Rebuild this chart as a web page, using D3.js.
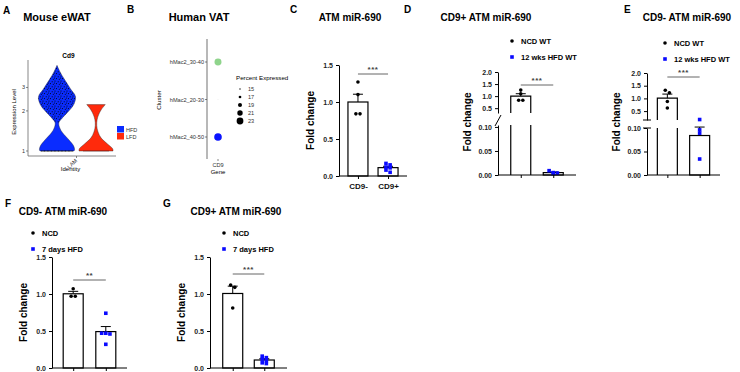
<!DOCTYPE html>
<html>
<head>
<meta charset="utf-8">
<script src="https://cdn.jsdelivr.net/npm/d3@7"></script>
<style>
  body { margin: 0; background: #fff; }
  svg { font-family: "Liberation Sans", Arial, Helvetica, sans-serif; }
</style>
</head>
<body>
<div id="chart"></div>
<script>
// ---------------- data ----------------
// A: Cd9 violin (log expression level vs relative density)
var vlnLevelsHFD = [4.40, 3.96, 3.45, 2.90, 2.56, 2.23, 1.97, 1.78, 1.63, 1.49, 1.37, 1.21, 1.09, 1.02, 1.0]
var vlnDensHFD = [0, 0.15, 0.40, 0.75, 1.0, 0.90, 0.60, 0.30, 0.10, 0.15, 0.30, 0.65, 0.90, 0.95, 0.92]
var vlnLevelsLFD = [2.23, 2.04, 1.87, 1.72, 1.55, 1.39, 1.25, 1.13, 1.04, 1.0]
var vlnDensLFD = [0.50, 0.28, 0.14, 0.06, 0.04, 0.11, 0.28, 0.62, 0.90, 0.92]
var vlnGroups = ['HFD', 'LFD']
var vlnTicks = [1, 2, 3]

// B: dot plot
var dotClusters = ['hMac2_30-40', 'hMac2_20-30', 'hMac2_40-50']
var dotPct = [23.3, 14.4, 24.2]
var dotColors = ['#8fd48c', '#e4e4e4', '#0a14ff']
var pctLegend = [15, 17, 19, 21, 23]

// C: ATM miR-690
var cGroups = ['CD9-', 'CD9+']
var cMeans = [1.0, 0.113]
var cSem = [0.105, 0.018]
var cPtsNeg = [1.27, 1.10, 0.84, 0.84]
var cPtsPos = [0.17, 0.15, 0.12, 0.11, 0.08, 0.05]

// D: CD9+ ATM miR-690, NCD WT vs 12 wks HFD WT
var dGroups = ['NCD WT', '12 wks HFD WT']
var dMeans = [1.0, 0.005]
var dSem = [0.10, 0.0013]
var dPtsNCD = [1.25, 1.10, 0.83, 0.83]
var dPtsHFD = [0.009, 0.005, 0.004, 0.003]

// E: CD9- ATM miR-690
var eMeans = [1.01, 0.084]
var eSem = [0.16, 0.018]
var ePtsNCD = [1.32, 1.22, 0.88, 0.62]
var ePtsHFD = [0.118, 0.096, 0.089, 0.034]

// F: CD9- ATM miR-690, NCD vs 7 days HFD
var fgGroups = ['NCD', '7 days HFD']
var fMeans = [1.003, 0.492]
var fSem = [0.033, 0.068]
var fPtsNCD = [0.97, 1.07, 0.97]
var fPtsHFD = [0.74, 0.47, 0.47, 0.46, 0.32]

// G: CD9+ ATM miR-690
var gMeans = [1.007, 0.108]
var gSem = [0.099, 0.017]
var gPtsNCD = [1.12, 1.09, 0.81]
var gPtsHFD = [0.16, 0.14, 0.12, 0.10, 0.07, 0.06]

var upTicks = [0.5, 1.0, 1.5, 2.0]
var loTicks = [0, 0.05, 0.10]
var simpleTicks = [0, 0.5, 1.0, 1.5]

// ---------------- drawing ----------------
var blue = '#0a0aff'
var svg = d3.select('#chart').append('svg')
    .attr('width', 740)
    .attr('height', 372)

function label(x, y, s, size, weight, anchor, rot) {
    var t = svg.append('text')
        .attr('x', x).attr('y', y)
        .attr('font-size', size + 'px')
        .attr('font-weight', weight || 'normal')
        .attr('text-anchor', anchor || 'start')
        .attr('fill', '#000')
        .text(s)
    if (rot) t.attr('transform', 'rotate(' + rot + ',' + x + ',' + y + ')')
    return t
}

// panel letters + titles
label(3, 14, 'A', 10, 'bold')
label(57, 21, 'Mouse eWAT', 11, 'bold', 'middle')
label(127, 13, 'B', 10, 'bold')
label(199, 21, 'Human VAT', 11, 'bold', 'middle')
label(290, 13, 'C', 10, 'bold')
label(350, 21, 'ATM miR-690', 10, 'bold', 'middle')
label(404, 13, 'D', 10, 'bold')
label(486, 21, 'CD9+ ATM miR-690', 10, 'bold', 'middle')
label(624, 13, 'E', 10, 'bold')
label(687, 21, 'CD9- ATM miR-690', 10, 'bold', 'middle')
label(5, 207, 'F', 10, 'bold')
label(63, 215, 'CD9- ATM miR-690', 10, 'bold', 'middle')
label(163, 207, 'G', 10, 'bold')
label(236, 215, 'CD9+ ATM miR-690', 10, 'bold', 'middle')

// ---------- A: violin ----------
var defs = svg.append('defs')
var pat = defs.append('pattern')
    .attr('id', 'cells')
    .attr('patternUnits', 'userSpaceOnUse')
    .attr('width', 6).attr('height', 5)
var cellDots = [[1, 1], [4.2, 1.8], [2.4, 3.6], [5.3, 4.3], [0.3, 3]]
cellDots.forEach(function (p) {
    pat.append('circle').attr('cx', p[0]).attr('cy', p[1]).attr('r', 0.55).attr('fill', '#000')
})

var vY = d3.scaleLog().domain([1, 4.5]).range([151, 64])
var vX = d3.scalePoint().domain(vlnGroups).range([57, 96])
var vW = d3.scaleLinear().domain([0, 1]).range([0, 18.5])
var vCol = { HFD: '#0a2cff', LFD: '#ff2a0c' }

function violin(levels, dens, grp) {
    var rows = levels.map(function (l, i) { return { l: l, d: dens[i] } })
    var cx = vX(grp)
    var area = d3.area()
        .y(function (d) { return vY(d.l) })
        .x0(function (d) { return cx - vW(d.d) })
        .x1(function (d) { return cx + vW(d.d) })
        .curve(d3.curveCatmullRom)
    svg.append('path')
        .attr('d', area(rows))
        .attr('fill', vCol[grp])
        .attr('stroke', '#222')
        .attr('stroke-width', 0.4)
    return area(rows)
}
var hfdPath = violin(vlnLevelsHFD, vlnDensHFD, 'HFD')
violin(vlnLevelsLFD, vlnDensLFD, 'LFD')

// jittered cells over the HFD violin (texture)
defs.append('clipPath').attr('id', 'upperClip')
    .append('rect').attr('x', 0).attr('y', vY(4.5)).attr('width', 200).attr('height', vY(1.62) - vY(4.5))
svg.append('path')
    .attr('d', hfdPath)
    .attr('fill', 'url(#cells)')
    .attr('clip-path', 'url(#upperClip)')
svg.append('line')
    .attr('x1', vX('HFD') - vW(0.85)).attr('x2', vX('HFD') + vW(0.85))
    .attr('y1', vY(1)).attr('y2', vY(1))
    .attr('stroke', '#000').attr('stroke-width', 1.1)
    .attr('stroke-dasharray', '0.9 0.5')
svg.append('line')
    .attr('x1', vX('LFD') - vW(0.7)).attr('x2', vX('LFD') + vW(0.7))
    .attr('y1', vY(1)).attr('y2', vY(1))
    .attr('stroke', '#611').attr('stroke-width', 0.5)

// A axes
var axA = svg.append('g').attr('stroke', '#555').attr('stroke-width', 0.7)
axA.append('line').attr('x1', 28).attr('x2', 28).attr('y1', 60).attr('y2', 156)
axA.append('line').attr('x1', 28).attr('x2', 116).attr('y1', 156).attr('y2', 156)
vlnTicks.forEach(function (t) {
    axA.append('line').attr('x1', 26).attr('x2', 28).attr('y1', vY(t)).attr('y2', vY(t))
    label(25, vY(t) + 2, t, 5.5, 'normal', 'end').attr('fill', '#333')
})
var lamX = (vX('HFD') + vX('LFD')) / 2
axA.append('line').attr('x1', lamX).attr('x2', lamX).attr('y1', 156).attr('y2', 158)
label(lamX + 1, 161, 'LAM', 5.5, 'normal', 'end', -45).attr('fill', '#333')
label(lamX - 6, 171, 'Identity', 6, 'normal', 'middle')
label(16, 112, 'Expression Level', 6, 'normal', 'middle', -90)
label(lamX - 8, 58, 'Cd9', 6.5, 'bold', 'middle')
// A legend
vlnGroups.forEach(function (g, i) {
    svg.append('rect').attr('x', 117).attr('y', 126 + i * 7).attr('width', 7).attr('height', 6.5)
        .attr('fill', vCol[g])
    label(126, 131.5 + i * 7, g, 5.5, 'normal').attr('fill', '#333')
})

// ---------- B: dot plot ----------
var bY = d3.scalePoint().domain(dotClusters).range([62, 137])
var bR = d3.scaleLinear().domain([13, 24.2]).range([0, 3.8])
var bX = 218
svg.append('line').attr('x1', 207).attr('x2', 207).attr('y1', 39).attr('y2', 159)
    .attr('stroke', '#333').attr('stroke-width', 0.7)
dotClusters.forEach(function (c, i) {
    svg.append('line').attr('x1', 205).attr('x2', 207).attr('y1', bY(c)).attr('y2', bY(c))
        .attr('stroke', '#333').attr('stroke-width', 0.6)
    label(204, bY(c) + 2, c, 5.6, 'normal', 'end').attr('fill', '#333')
    svg.append('circle').attr('cx', bX).attr('cy', bY(c)).attr('r', bR(dotPct[i]))
        .attr('fill', dotColors[i])
})
svg.append('line').attr('x1', bX).attr('x2', bX).attr('y1', 159).attr('y2', 161)
    .attr('stroke', '#333').attr('stroke-width', 0.6)
label(bX, 167, 'CD9', 5.6, 'normal', 'middle').attr('fill', '#333')
label(bX, 174, 'Gene', 6, 'normal', 'middle')
label(161, 100, 'Cluster', 6.2, 'normal', 'middle', -90)
label(236, 80, 'Percent Expressed', 6.2, 'normal')
pctLegend.forEach(function (p, i) {
    var y = 89 + i * 8
    svg.append('circle').attr('cx', 240).attr('cy', y).attr('r', bR(p)).attr('fill', '#000')
    label(248, y + 2, p, 5.6, 'normal').attr('fill', '#333')
})

// ---------- bar panels ----------
function swarmOffsets(vals, yScale, r) {
    // spread points that sit at nearly the same height, at most 3 per row
    var order = vals.map(function (v, i) { return i }).sort(function (a, b) { return vals[b] - vals[a] })
    var out = new Array(vals.length)
    var rows = []
    order.forEach(function (i) {
        var y = yScale(vals[i])
        var last = rows[rows.length - 1]
        if (last && Math.abs(last.y - y) < 1.6 * r && last.idx.length < 3) last.idx.push(i)
        else rows.push({ y: y, idx: [i] })
    })
    rows.forEach(function (row) {
        var n = row.idx.length
        row.idx.forEach(function (i, k) { out[i] = (k - (n - 1) / 2) * 2.3 * r })
    })
    return out
}

function drawPoints(g, vals, cx, yScale, kind) {
    var r = 1.8
    var off = swarmOffsets(vals, yScale, r)
    vals.forEach(function (v, i) {
        if (kind === 'dot') {
            g.append('circle').attr('cx', cx + off[i]).attr('cy', yScale(v)).attr('r', r).attr('fill', '#000')
        } else {
            g.append('rect').attr('x', cx + off[i] - r).attr('y', yScale(v) - r)
                .attr('width', 2 * r).attr('height', 2 * r).attr('fill', blue)
        }
    })
}

function errBar(g, cx, y0, y1) {
    g.append('line').attr('x1', cx).attr('x2', cx).attr('y1', y0).attr('y2', y1)
        .attr('stroke', '#000').attr('stroke-width', 1)
    g.append('line').attr('x1', cx - 5).attr('x2', cx + 5).attr('y1', y1).attr('y2', y1)
        .attr('stroke', '#000').attr('stroke-width', 1)
}

function sig(g, x1, x2, y, stars) {
    g.append('line').attr('x1', x1).attr('x2', x2).attr('y1', y).attr('y2', y)
        .attr('stroke', '#666').attr('stroke-width', 1)
    g.append('text').attr('x', (x1 + x2) / 2).attr('y', y - 2.5)
        .attr('text-anchor', 'middle').attr('font-size', '8px').attr('font-weight', 'bold')
        .attr('fill', '#444').attr('letter-spacing', '0.5px')
        .text(stars)
}

function legend(x, y, names) {
    svg.append('circle').attr('cx', x).attr('cy', y).attr('r', 1.8).attr('fill', '#000')
    svg.append('rect').attr('x', x - 1.8).attr('y', y + 16 - 1.8).attr('width', 3.6).attr('height', 3.6).attr('fill', blue)
    label(x + 9, y + 3, names[0], 7.5, 'bold')
    label(x + 9, y + 19, names[1], 7.5, 'bold')
}

function yTitle(x, y) {
    label(x, y, 'Fold change', 10, 'bold', 'middle', -90)
}

function simplePanel(p) {
    var g = svg.append('g')
    var x = d3.scalePoint().domain(p.groups).range([p.ax, p.xEnd]).padding(p.pad)
    var y = p.y
    p.means.forEach(function (m, i) {
        var cx = x(p.groups[i])
        errBar(g, cx, y(m), y(m + p.sem[i]))
        g.append('rect').attr('x', cx - 10).attr('y', y(m)).attr('width', 20).attr('height', y(0) - y(m))
            .attr('fill', i === 0 ? '#fff' : 'none').attr('stroke', '#000').attr('stroke-width', 1.2)
    })
    drawPoints(g, p.pts[0], x(p.groups[0]), y, 'dot')
    drawPoints(g, p.pts[1], x(p.groups[1]), y, 'sq')
    var ax = g.append('g').attr('transform', 'translate(' + p.ax + ',0)')
        .call(d3.axisLeft(y).tickValues(simpleTicks).tickFormat(d3.format('.1f')).tickSize(3).tickSizeOuter(0))
    ax.selectAll('text').attr('font-size', '7px').attr('font-weight', 'bold').attr('font-family', 'inherit').attr('fill', '#222')
    var bx = g.append('g').attr('transform', 'translate(0,' + y(0) + ')')
        .call(d3.axisBottom(x).tickSize(3).tickSizeOuter(0))
    bx.select('.domain').attr('d', 'M' + p.ax + ',0H' + p.xEnd)
    bx.selectAll('text').attr('font-size', '8px').attr('font-weight', 'bold').attr('font-family', 'inherit')
        .attr('fill', '#111').attr('dy', '0.9em')
    if (!p.xLabels) bx.selectAll('text').remove()
    g.selectAll('.domain, .tick line').attr('stroke-width', 1)
    sig(g, x(p.groups[0]), x(p.groups[1]), p.sigY, p.stars)
    yTitle(p.ax - 25, (y(0) + y(1.5)) / 2)
}

simplePanel({
    groups: cGroups, ax: 339, xEnd: 407, pad: 0.63,
    y: d3.scaleLinear().domain([0, 1.5]).range([176, 65]),
    means: cMeans, sem: cSem, pts: [cPtsNeg, cPtsPos],
    sigY: 74, stars: '***', xLabels: true
})
simplePanel({
    groups: fgGroups, ax: 52, xEnd: 127, pad: 0.65,
    y: d3.scaleLinear().domain([0, 1.5]).range([368, 257]),
    means: fMeans, sem: fSem, pts: [fPtsNCD, fPtsHFD],
    sigY: 280, stars: '**', xLabels: false
})
simplePanel({
    groups: fgGroups, ax: 210, xEnd: 287, pad: 0.72,
    y: d3.scaleLinear().domain([0, 1.5]).range([368, 257]),
    means: gMeans, sem: gSem, pts: [gPtsNCD, gPtsHFD],
    sigY: 274, stars: '***', xLabels: false
})
legend(33, 233, fgGroups)
legend(224, 233, fgGroups)

// ---------- broken-axis panels ----------
function brokenPanel(p) {
    var g = svg.append('g')
    var x = d3.scalePoint().domain(dGroups).range([p.ax, p.xEnd]).padding(p.pad)
    var up = p.up, lo = p.lo
    var yv = function (v) { return v >= 0.2 ? up(v) : lo(v) }
    var upBot = up.range()[0], loTop = lo.range()[1]
    p.means.forEach(function (m, i) {
        var cx = x(dGroups[i])
        errBar(g, cx, yv(m), yv(m + p.sem[i]))
        if (m >= 0.2) {
            var path = 'M' + (cx - 10) + ',' + upBot + 'V' + up(m) + 'H' + (cx + 10) + 'V' + upBot +
                'M' + (cx - 10) + ',' + loTop + 'V' + lo(0) + 'M' + (cx + 10) + ',' + loTop + 'V' + lo(0)
            g.append('path').attr('d', path).attr('fill', 'none').attr('stroke', '#000').attr('stroke-width', 1.2)
        } else {
            g.append('rect').attr('x', cx - 10).attr('y', lo(m)).attr('width', 20).attr('height', lo(0) - lo(m))
                .attr('fill', 'none').attr('stroke', '#000').attr('stroke-width', 1.2)
        }
    })
    drawPoints(g, p.pts[0], x(dGroups[0]), up, 'dot')
    drawPoints(g, p.pts[1], x(dGroups[1]), lo, 'sq')
    g.append('g').attr('transform', 'translate(' + p.ax + ',0)')
        .call(d3.axisLeft(up).tickValues(upTicks).tickFormat(d3.format('.1f')).tickSize(3).tickSizeOuter(0))
    g.append('g').attr('transform', 'translate(' + p.ax + ',0)')
        .call(d3.axisLeft(lo).tickValues(loTicks).tickFormat(d3.format('.2f')).tickSize(3).tickSizeOuter(0))
    g.selectAll('.tick text').attr('font-size', '7px').attr('font-weight', 'bold').attr('font-family', 'inherit').attr('fill', '#222')
    var bx = g.append('g').attr('transform', 'translate(0,' + lo(0) + ')')
        .call(d3.axisBottom(x).tickSize(3).tickSizeOuter(0))
    bx.select('.domain').attr('d', 'M' + p.ax + ',0H' + p.xEnd)
    bx.selectAll('text').remove()
    g.selectAll('.domain, .tick line').attr('stroke-width', 1)
    if (p.slash) {
        g.append('line').attr('x1', p.ax - 3).attr('x2', p.ax + 3).attr('y1', loTop + 1).attr('y2', upBot + 2)
            .attr('stroke', '#000').attr('stroke-width', 1)
    } else {
        g.append('line').attr('x1', p.ax - 4).attr('x2', p.ax + 4).attr('y1', upBot).attr('y2', upBot).attr('stroke', '#000')
        g.append('line').attr('x1', p.ax - 4).attr('x2', p.ax + 4).attr('y1', loTop).attr('y2', loTop).attr('stroke', '#000')
    }
    sig(g, x(dGroups[0]), x(dGroups[1]), p.sigY, '***')
    yTitle(p.ax - 27, 122)
}

brokenPanel({
    ax: 498, xEnd: 576, pad: 0.7,
    up: d3.scaleLinear().domain([0.3, 2.0]).range([113, 72]),
    lo: d3.scaleLinear().domain([0, 0.104]).range([175, 125]),
    means: dMeans, sem: dSem, pts: [dPtsNCD, dPtsHFD], sigY: 85, slash: true
})
brokenPanel({
    ax: 647, xEnd: 720, pad: 0.63,
    up: d3.scaleLinear().domain([0.15, 2.0]).range([120, 73]),
    lo: d3.scaleLinear().domain([0, 0.1]).range([175, 128]),
    means: eMeans, sem: eSem, pts: [ePtsNCD, ePtsHFD], sigY: 77, slash: false
})
legend(512, 41, dGroups)
legend(665, 43, dGroups)
</script>
</body>
</html>
